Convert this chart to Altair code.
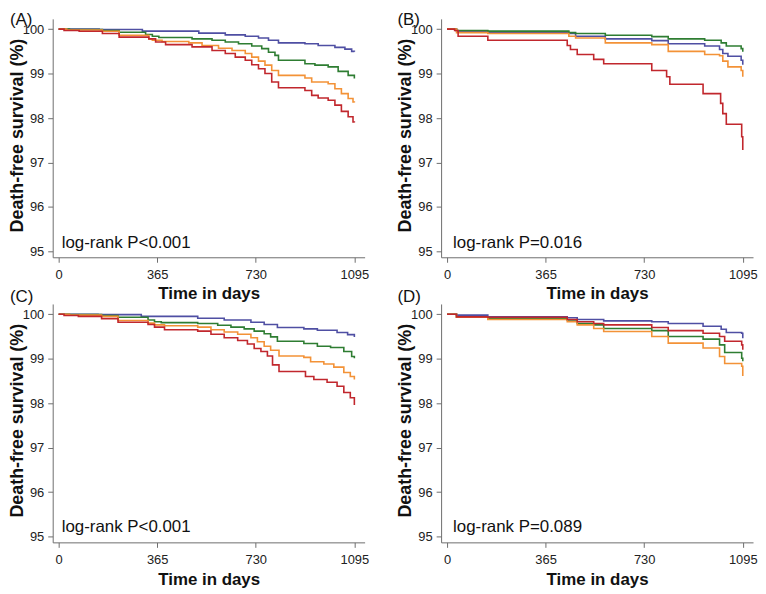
import altair as alt
import pandas as pd

# ---------------- data ----------------
groups = ["blue", "green", "orange", "red"]
colors = ["#4F4FA3", "#2E7D32", "#F39237", "#C1272D"]

# Panel A
A_blue_t = [0, 150, 310, 519, 617, 691, 740, 777, 814, 912, 961, 1023, 1060, 1085, 1095]
A_blue_v = [100, 99.99, 99.955, 99.91, 99.87, 99.84, 99.80, 99.75, 99.69, 99.67, 99.63, 99.59, 99.55, 99.50, 99.49]
A_green_t = [0, 40, 162, 224, 322, 347, 371, 494, 568, 617, 666, 715, 752, 777, 801, 814, 912, 949, 998, 1035, 1072, 1095]
A_green_v = [100, 99.99, 99.97, 99.93, 99.88, 99.84, 99.81, 99.78, 99.75, 99.71, 99.67, 99.62, 99.56, 99.48, 99.41, 99.30, 99.22, 99.19, 99.15, 99.05, 98.96, 98.89]
A_orange_t = [0, 30, 162, 224, 334, 347, 383, 482, 531, 592, 642, 691, 715, 740, 764, 789, 814, 912, 937, 998, 1023, 1047, 1072, 1090, 1095]
A_orange_v = [100, 99.98, 99.95, 99.86, 99.78, 99.75, 99.72, 99.69, 99.63, 99.57, 99.52, 99.45, 99.37, 99.28, 99.19, 99.07, 98.96, 98.90, 98.81, 98.77, 98.66, 98.55, 98.44, 98.36, 98.35]
A_red_t = [0, 20, 76, 162, 224, 334, 359, 396, 494, 568, 617, 654, 691, 715, 740, 764, 789, 814, 912, 937, 961, 998, 1023, 1047, 1072, 1090, 1095]
A_red_v = [100, 99.97, 99.95, 99.90, 99.82, 99.78, 99.71, 99.65, 99.60, 99.52, 99.45, 99.37, 99.30, 99.20, 99.11, 99.00, 98.81, 98.68, 98.62, 98.51, 98.45, 98.40, 98.29, 98.15, 98.03, 97.91, 97.90]

# Panel B
B_blue_t = [0, 35, 151, 451, 476, 586, 758, 819, 954, 1009, 1021, 1040, 1089, 1095]
B_blue_v = [100, 99.95, 99.93, 99.90, 99.84, 99.78, 99.74, 99.67, 99.62, 99.54, 99.45, 99.39, 99.30, 99.20]
B_green_t = [0, 35, 151, 451, 476, 586, 758, 819, 954, 1015, 1034, 1089, 1095]
B_green_v = [100, 99.97, 99.955, 99.92, 99.90, 99.86, 99.83, 99.78, 99.75, 99.69, 99.62, 99.56, 99.49]
B_orange_t = [0, 35, 151, 451, 476, 586, 758, 819, 954, 1009, 1021, 1040, 1089, 1095]
B_orange_v = [100, 99.92, 99.90, 99.84, 99.80, 99.69, 99.65, 99.50, 99.43, 99.40, 99.28, 99.15, 99.07, 98.93]
B_red_t = [0, 28, 41, 151, 445, 457, 482, 543, 580, 758, 813, 825, 948, 1013, 1021, 1034, 1091, 1095]
B_red_v = [100, 99.97, 99.84, 99.75, 99.63, 99.54, 99.43, 99.32, 99.22, 99.07, 98.93, 98.76, 98.55, 98.33, 98.10, 97.86, 97.58, 97.28]

# Panel C
C_blue_t = [0, 146, 306, 515, 613, 712, 761, 810, 908, 958, 1031, 1070, 1095]
C_blue_v = [100, 99.99, 99.95, 99.91, 99.87, 99.82, 99.77, 99.70, 99.67, 99.64, 99.59, 99.54, 99.49]
C_green_t = [0, 40, 159, 220, 331, 355, 380, 515, 589, 638, 687, 724, 761, 785, 810, 908, 958, 1007, 1056, 1085, 1095]
C_green_v = [100, 99.99, 99.97, 99.93, 99.87, 99.83, 99.81, 99.79, 99.75, 99.71, 99.67, 99.62, 99.56, 99.49, 99.39, 99.34, 99.28, 99.25, 99.16, 99.05, 99.01]
C_orange_t = [0, 40, 159, 220, 331, 355, 392, 515, 564, 613, 663, 712, 736, 761, 785, 816, 908, 933, 982, 1019, 1056, 1080, 1095]
C_orange_v = [100, 99.98, 99.95, 99.86, 99.80, 99.76, 99.74, 99.71, 99.65, 99.60, 99.55, 99.47, 99.38, 99.28, 99.19, 99.06, 99.03, 98.93, 98.88, 98.81, 98.69, 98.60, 98.53]
C_red_t = [0, 20, 73, 159, 220, 331, 355, 392, 515, 564, 613, 663, 699, 724, 749, 773, 792, 816, 914, 945, 994, 1031, 1056, 1080, 1095]
C_red_v = [100, 99.97, 99.95, 99.90, 99.82, 99.77, 99.71, 99.65, 99.62, 99.55, 99.47, 99.41, 99.33, 99.23, 99.16, 99.06, 98.86, 98.71, 98.60, 98.53, 98.47, 98.38, 98.24, 98.12, 97.96]

# Panel D
D_blue_t = [0, 35, 151, 445, 482, 580, 758, 819, 948, 1015, 1034, 1091, 1095]
D_blue_v = [100, 99.98, 99.94, 99.92, 99.88, 99.85, 99.83, 99.79, 99.73, 99.66, 99.59, 99.57, 99.46]
D_green_t = [0, 35, 151, 445, 482, 543, 580, 758, 819, 948, 1009, 1028, 1091, 1095]
D_green_v = [100, 99.94, 99.90, 99.87, 99.79, 99.76, 99.68, 99.63, 99.50, 99.44, 99.31, 99.14, 99.01, 98.94]
D_orange_t = [0, 35, 151, 445, 482, 543, 580, 758, 819, 948, 1009, 1028, 1091, 1095]
D_orange_v = [100, 99.93, 99.88, 99.83, 99.76, 99.68, 99.61, 99.50, 99.35, 99.24, 99.05, 98.89, 98.83, 98.61]
D_red_t = [0, 35, 151, 445, 482, 543, 580, 758, 819, 948, 1009, 1028, 1091, 1095]
D_red_v = [100, 99.94, 99.93, 99.88, 99.83, 99.79, 99.76, 99.70, 99.63, 99.57, 99.50, 99.39, 99.31, 99.20]

panel_letters = ["(A)", "(B)", "(C)", "(D)"]
pvalue_texts = ["log-rank P<0.001", "log-rank P=0.016", "log-rank P<0.001", "log-rank P=0.089"]

x_ticks = [0, 365, 730, 1095]
y_ticks = [95, 96, 97, 98, 99, 100]

panels = {
    "A": [(A_blue_t, A_blue_v), (A_green_t, A_green_v), (A_orange_t, A_orange_v), (A_red_t, A_red_v)],
    "B": [(B_blue_t, B_blue_v), (B_green_t, B_green_v), (B_orange_t, B_orange_v), (B_red_t, B_red_v)],
    "C": [(C_blue_t, C_blue_v), (C_green_t, C_green_v), (C_orange_t, C_orange_v), (C_red_t, C_red_v)],
    "D": [(D_blue_t, D_blue_v), (D_green_t, D_green_v), (D_orange_t, D_orange_v), (D_red_t, D_red_v)],
}

FONT = "Liberation Sans"
W, H = 314, 240
AXIS_COL = "#6e6e6e"


def make_panel(idx, key):
    rows = []
    for order, (g, (ts, vs)) in enumerate(zip(groups, panels[key])):
        for t, v in zip(ts, vs):
            rows.append({"t": t, "v": v, "g": g, "o": order})
    df = pd.DataFrame(rows)

    lines = alt.Chart(df).mark_line(interpolate="step-after", strokeWidth=1.6).encode(
        x=alt.X("t:Q",
                scale=alt.Scale(domain=[-22, 1133], nice=False, zero=False),
                axis=alt.Axis(values=x_ticks, format="d", title="Time in days", grid=False,
                              labelPadding=6, titlePadding=5, labelFlush=False,
                              labelFontSize=13, labelFont=FONT,
                              titleFontSize=17, titleFontWeight="bold", titleFont=FONT)),
        y=alt.Y("v:Q",
                scale=alt.Scale(domain=[94.87, 100.23], nice=False, zero=False),
                axis=alt.Axis(values=y_ticks, format="d", title="Death-free survival (%)", grid=False,
                              labelPadding=4, labelFontSize=13, labelFont=FONT,
                              titleFontSize=18, titleFontWeight="bold", titleFont=FONT,
                              titleX=-30.6, titleY=117, titleAlign="center",
                              titleBaseline="alphabetic")),
        color=alt.Color("g:N", scale=alt.Scale(domain=groups, range=colors), legend=None),
        order=alt.Order("o:Q"),
    )

    left_off = 9 if key in ("A", "C") else 12
    base_y = 231 if key in ("A", "B") else 230
    ptext = alt.Chart(pd.DataFrame({"s": [pvalue_texts[idx]]})).mark_text(
        align="left", baseline="alphabetic", fontSize=17, font=FONT, color="#111"
    ).encode(text="s:N", x=alt.value(left_off), y=alt.value(base_y))

    lab_y = 5.8 if key in ("A", "B") else -1.5
    lab_x = -43 if key in ("A", "C") else -44
    letter = alt.Chart(pd.DataFrame({"s": [panel_letters[idx]]})).mark_text(
        align="left", baseline="alphabetic", fontSize=17, font=FONT, color="#111"
    ).encode(text="s:N", x=alt.value(lab_x), y=alt.value(lab_y))

    layers = [lines, ptext, letter]
    if key == "A":
        anchor = alt.Chart(pd.DataFrame({"a": [0]})).mark_rule(
            color="white", strokeWidth=1
        ).encode(x=alt.value(-44.5), x2=alt.value(-44), y=alt.value(-7.5), y2=alt.value(-7.5))
        layers.append(anchor)
    return alt.layer(*layers).properties(width=W, height=H)


charts = [make_panel(i, k) for i, k in enumerate(["A", "B", "C", "D"])]

chart = alt.concat(
    *charts, columns=2, spacing={"row": 47, "column": 77}, bounds="flush"
).properties(
    padding=0, background="white"
).configure_view(
    stroke=None
).configure_axis(
    domainColor=AXIS_COL, tickColor=AXIS_COL, domainWidth=1, tickWidth=1, tickSize=5,
    labelColor="#222", titleColor="#111", labelOverlap=False,
)

chart.save("out.html", embed_options={"renderer": "svg", "actions": False})
